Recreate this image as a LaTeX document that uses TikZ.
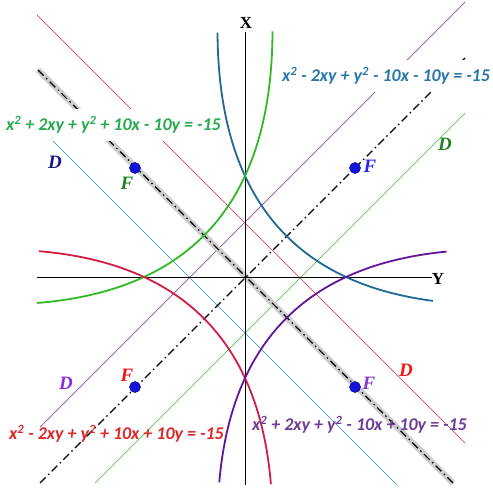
\documentclass[tikz,border=0pt]{standalone}
\usepackage{fontspec}
\setmainfont{Liberation Serif}
\newfontfamily\eqfont{Carlito}
\definecolor{tealcurve}{RGB}{30,105,150}
\definecolor{teallabel}{RGB}{40,120,170}
\definecolor{tealthin}{RGB}{40,140,200}
\definecolor{navyD}{RGB}{20,20,140}
\definecolor{blueF}{RGB}{40,40,230}
\definecolor{greencurve}{RGB}{50,185,40}
\definecolor{greenlabel}{RGB}{40,170,80}
\definecolor{greenthin}{RGB}{90,200,90}
\definecolor{greenDF}{RGB}{30,130,30}
\definecolor{redcurve}{RGB}{210,30,70}
\definecolor{redthin}{RGB}{225,40,70}
\definecolor{redlabel}{RGB}{220,40,40}
\definecolor{redDF}{RGB}{240,20,20}
\definecolor{purplecurve}{RGB}{100,20,150}
\definecolor{purplethin}{RGB}{140,80,170}
\definecolor{purplelabel}{RGB}{110,60,150}
\definecolor{purpleD}{RGB}{140,40,230}
\definecolor{purpleF}{RGB}{130,60,210}
\definecolor{focusblue}{RGB}{20,20,215}
\definecolor{focusdark}{RGB}{0,0,150}
\definecolor{hilite}{RGB}{205,205,205}
\newcommand{\sqd}{\textsuperscript{2}}
\begin{document}
\begin{tikzpicture}[x=1bp,y=-1bp,
  curve/.style={line width=1.8bp},
  thinline/.style={line width=0.7bp},
  axisline/.style={line width=0.9bp,black},
  dashdot/.style={line width=1.2bp,black,dash pattern=on 8bp off 3.5bp on 1.5bp off 3.5bp},
  eqlabel/.style={font=\eqfont\bfseries\itshape\fontsize{18}{18}\selectfont,inner sep=1bp,anchor=west},
  boxlabel/.style={eqlabel,fill=white,inner xsep=1bp,inner ysep=7bp},
  letter/.style={font=\bfseries\itshape\fontsize{19}{19}\selectfont,inner sep=0pt},
  axislabel/.style={font=\bfseries\fontsize{17}{17}\selectfont,inner sep=0pt},
  focus/.style={circle,fill=focusblue,draw=focusdark,line width=0.5bp,minimum size=11bp,inner sep=0pt}]
\useasboundingbox[fill=white] (0,0) rectangle (493,499);

% directrices
\draw[thinline,redthin] (37,15) -- (465,443);
\draw[thinline,tealthin] (37,125) -- (397,485);
\draw[thinline,greenthin] (95,483) -- (465,113);
\draw[thinline,purplethin] (40,427) -- (465,2);

% axes of symmetry
\draw[line width=6bp,hilite] (38,70) -- (453,483);
\draw[dashdot] (38,70) -- (453,483);
\draw[dashdot] (40,483) -- (465,58);

% coordinate axes
\draw[axisline] (37,277) -- (432,277);
\draw[axisline] (245,32) -- (245,485);
\node[axislabel] (Ylab) at (438,279) {Y};
\node[axislabel] (Xlab) at (246,23) {X};

% top labels with white background
\node[boxlabel,text=teallabel] (eqteal) at (281,76) {x\sqd{} - 2xy + y\sqd{} - 10x - 10y = -15};
\node[boxlabel,text=greenlabel] (eqgreen) at (5,125) {x\sqd{} + 2xy + y\sqd{} + 10x - 10y = -15};

% parabolas
\begin{scope}[shift={(245bp,-277bp)},x={(55bp,0bp)},y={(0bp,55bp)}]
  \draw[curve,tealcurve] plot[domain=-3.85:4.945,samples=120,smooth]
    ({((\x*\x+15)/10-\x)/2},{((\x*\x+15)/10+\x)/2});
  \draw[curve,greencurve] plot[domain=-4.255:4.964,samples=120,smooth]
    ({(\x-(\x*\x+15)/10)/2},{(\x+(\x*\x+15)/10)/2});
  \draw[curve,redcurve] plot[domain=-4.236:4.218,samples=120,smooth]
    ({(-(\x*\x+15)/10-\x)/2},{(\x-(\x*\x+15)/10)/2});
  \draw[curve,purplecurve] plot[domain=-4.2:4.127,samples=120,smooth]
    ({(\x+(\x*\x+15)/10)/2},{(\x-(\x*\x+15)/10)/2});
\end{scope}

% bottom labels
\node[eqlabel,text=redlabel] (eqred) at (8,434) {x\sqd{} - 2xy + y\sqd{} + 10x + 10y = -15};
\node[eqlabel,text=purplelabel] (eqpurple) at (251,425) {x\sqd{} + 2xy + y\sqd{} - 10x + 10y = -15};

% foci
\node[focus] (F1) at (355,168) {};
\node[focus] (F2) at (135,168) {};
\node[focus] (F3) at (135,387) {};
\node[focus] (F4) at (355,387) {};
\node[letter,text=blueF] (F1lab) at (370,166) {F};
\node[letter,text=greenDF] (F2lab) at (127,183) {F};
\node[letter,text=redDF] (F3lab) at (127,375) {F};
\node[letter,text=purpleF] (F4lab) at (369,383) {F};

% directrix labels
\node[letter,text=navyD] (D1) at (55,162) {D};
\node[letter,text=greenDF] (D2) at (445,144) {D};
\node[letter,text=purpleD] (D3) at (66,383) {D};
\node[letter,text=redDF] (D4) at (406,370) {D};
\end{tikzpicture}
\end{document}
